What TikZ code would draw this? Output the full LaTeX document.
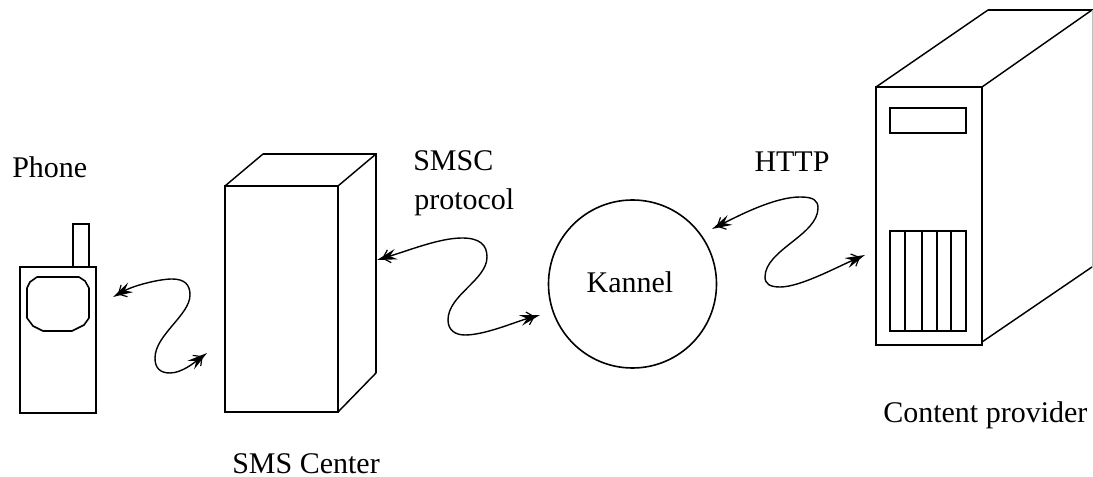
\documentclass[tikz,border=0pt]{standalone}
\usepackage{fontspec}
\setmainfont{Liberation Serif}
\usetikzlibrary{arrows.meta}
\tikzset{
  solidbox/.style={draw=black,line width=1.5pt,fill=none,inner sep=0pt,outer sep=0pt},
  edgeline/.style={draw=black,line width=1.5pt,line join=miter},
  thinedge/.style={draw=black,line width=1.1pt},
  lbl/.style={font=\fontsize{22.5}{27}\selectfont,inner sep=0pt,text=black},
  wave/.style={draw=black,line width=1.05pt,
    {Stealth[length=15pt,width=8pt,inset=5pt]Straight Barb[length=5pt,width=10pt,sep=-11pt,line width=.9pt]}-{Straight Barb[length=5pt,width=10pt,sep=-11pt,line width=.9pt]Stealth[length=15pt,width=8pt,inset=5pt]}}
}
\begin{document}
\begin{tikzpicture}[x=0.75pt,y=-0.75pt]
\useasboundingbox (0,0) rectangle (1093,477);
% phone
\node[solidbox,minimum width=57pt,minimum height=109.5pt,anchor=north west] (phone) at (20,267) {};
\node[solidbox,minimum width=12pt,minimum height=32.25pt,anchor=south west] (antenna) at (73,267) {};
\draw[edgeline,line width=1.2pt,line join=round] (37,277) -- (79,277) -- (85,281) -- (89,288) -- (89,318) -- (84,325) -- (72,331) -- (43,331) -- (33,326) -- (27,318) -- (27,288) -- (30,282) -- cycle;
% SMS center
\node[solidbox,minimum width=84.75pt,minimum height=169.5pt,anchor=north west] (smsc) at (225,186) {};
\draw[thinedge] (smsc.north west) -- (263,154);
\draw[edgeline] (263,154) -- (376,154) -- (376,373);
\draw[thinedge] (smsc.north east) -- (376,154);
\draw[thinedge] (smsc.south east) -- (376,373);
% Kannel
\node[draw=black,line width=1.2pt,circle,minimum size=126pt,inner sep=0pt,outer sep=0pt] (kannel) at (632.5,284) {};
% server
\node[solidbox,minimum width=79.5pt,minimum height=193.5pt,anchor=north west] (server) at (876,87) {};
\draw[thinedge] (server.north west) -- (988,10);
\draw[edgeline] (988,10) -- (1093,10);
\draw[thinedge] (server.north east) -- (1092,10);
\draw[thinedge] (982,342) -- (1092,267);
\draw[draw=black!25,line width=.6pt] (1092.5,10) -- (1092.5,267);
\node[solidbox,minimum width=57pt,minimum height=18.75pt,anchor=north west] (panel) at (890,108) {};
\node[solidbox,minimum width=57pt,minimum height=75pt,anchor=north west] (grid) at (890,231) {};
\draw[edgeline,line width=1.2pt] (905,231) -- (905,331) (922,231) -- (922,331) (937,231) -- (937,331) (951,231) -- (951,331);
% connectors
\coordinate (w1a) at (113,297);
\coordinate (w1b) at (207,353);
\coordinate (w2a) at (377,260);
\coordinate (w2b) at (540,315);
\coordinate (w3a) at (712,229);
\coordinate (w3b) at (865,255);
\draw[wave] (w1a) .. controls (135,285) and (160,279) .. (172,279) .. controls (185,279) and (190,285) .. (190,295) .. controls (190,315) and (155,335) .. (155,358) .. controls (155,368) and (160,373) .. (170,373) .. controls (182,373) and (195,362) .. (w1b);
\draw[wave] (w2a) .. controls (410,250) and (440,238) .. (462,238) .. controls (480,238) and (487,245) .. (487,257) .. controls (487,280) and (448,295) .. (448,320) .. controls (448,330) and (455,335) .. (465,335) .. controls (485,335) and (515,322) .. (w2b);
\draw[wave] (w3a) .. controls (740,215) and (775,197) .. (800,197) .. controls (813,197) and (818,200) .. (818,208) .. controls (818,235) and (765,250) .. (765,277) .. controls (765,284) and (770,287) .. (780,287) .. controls (800,287) and (835,268) .. (w3b);
% labels
\node[lbl,anchor=base west] (lphone) at (12,178) {Phone};
\node[lbl,anchor=base west] (lsms) at (232,473) {SMS Center};
\node[lbl,anchor=base west] (lsmsc) at (413,171) {SMSC};
\node[lbl,anchor=base west] (lproto) at (414,210) {protocol};
\node[lbl,anchor=base] (lkannel) at (630,293) {Kannel};
\node[lbl,anchor=base] (lhttp) at (792,172) {HTTP};
\node[lbl,anchor=base west] (lcp) at (883,422) {Content provider};
\end{tikzpicture}
\end{document}
